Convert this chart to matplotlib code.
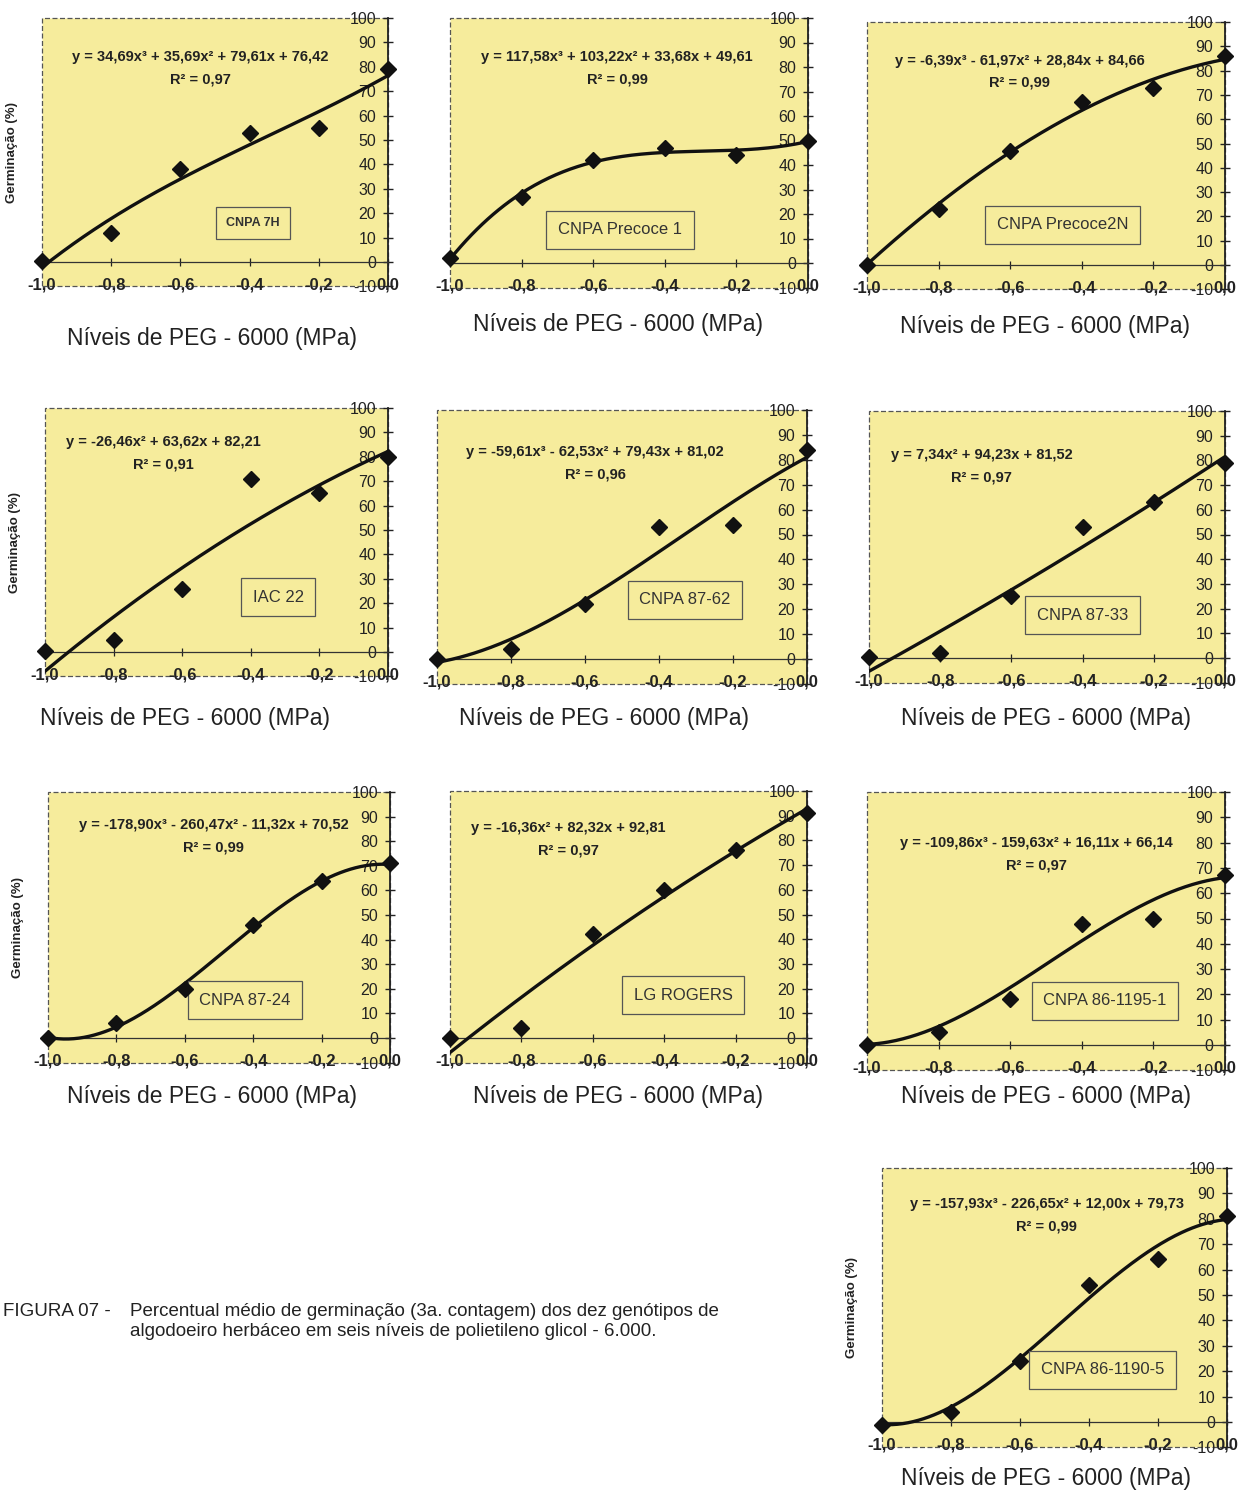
import matplotlib
matplotlib.use("Agg")
import matplotlib.pyplot as plt
import numpy as np

plt.rcParams['font.family'] = ['Liberation Sans', 'DejaVu Sans']

# PEG-6000 osmotic levels (MPa)
levels = [-1.0, -0.8, -0.6, -0.4, -0.2, 0.0]
level_labels = ['-1,0', '-0,8', '-0,6', '-0,4', '-0,2', '0,0']
y_ticks = [-10, 0, 10, 20, 30, 40, 50, 60, 70, 80, 90, 100]

genotypes = ['CNPA 7H', 'CNPA Precoce 1', 'CNPA Precoce2N', 'IAC 22',
             'CNPA 87-62', 'CNPA 87-33', 'CNPA 87-24', 'LG ROGERS',
             'CNPA 86-1195-1', 'CNPA 86-1190-5']

# mean germination (%) per genotype at each PEG level
germ_7h = [0.5, 12, 38, 53, 55, 79]
germ_precoce1 = [2, 27, 42, 47, 44, 50]
germ_precoce2n = [0, 23, 47, 67, 73, 86]
germ_iac22 = [0.5, 5, 26, 71, 65, 80]
germ_8762 = [0, 4, 22, 53, 54, 84]
germ_8733 = [0.5, 2, 25, 53, 63, 79]
germ_8724 = [0, 6, 20, 46, 64, 71]
germ_lgrogers = [0, 4, 42, 60, 76, 91]
germ_861195 = [0, 5, 18, 48, 50, 67]
germ_861190 = [-1, 4, 24, 54, 64, 81]

# polynomial trend coefficients (x^3, x^2, x, constant)
coef_7h = [34.69, 35.69, 79.61, 76.42]
coef_precoce1 = [117.58, 103.22, 33.68, 49.61]
coef_precoce2n = [-6.39, -61.97, 28.84, 84.66]
coef_iac22 = [0.0, -26.46, 63.62, 82.21]
coef_8762 = [-59.61, -62.53, 79.43, 81.02]
coef_8733 = [0.0, 7.34, 94.23, 81.52]
coef_8724 = [-178.90, -260.47, -11.32, 70.52]
coef_lgrogers = [0.0, -16.36, 82.32, 92.81]
coef_861195 = [-109.86, -159.63, 16.11, 66.14]
coef_861190 = [-157.93, -226.65, 12.00, 79.73]

r2_values = ['0,97', '0,99', '0,99', '0,91', '0,96', '0,97', '0,99', '0,97', '0,97', '0,99']

germ_all = [germ_7h, germ_precoce1, germ_precoce2n, germ_iac22, germ_8762,
            germ_8733, germ_8724, germ_lgrogers, germ_861195, germ_861190]
coef_all = [coef_7h, coef_precoce1, coef_precoce2n, coef_iac22, coef_8762,
            coef_8733, coef_8724, coef_lgrogers, coef_861195, coef_861190]

W, H = 1239, 1494
YELLOW = '#F6EC9C'

# panel frames in pixels: left, right, top (y=100), zero line (y=0)
frames = [
    (42, 388, 18, 262), (450, 808, 18, 263), (867, 1225, 22, 265),
    (45, 388, 408, 652), (437, 807, 410, 659), (869, 1225, 411, 658),
    (48, 390, 792, 1038), (450, 807, 791, 1038), (867, 1225, 792, 1045),
    (882, 1227, 1168, 1422),
]
# equation anchor (data coords), genotype box anchor (data coords)
eq_pos = [(-0.543, 84), (-0.533, 84), (-0.573, 84), (-0.656, 86), (-0.573, 83),
          (-0.683, 82), (-0.515, 86.5), (-0.669, 85), (-0.528, 80), (-0.522, 86)]
box_pos = [(-0.39, 16), (-0.525, 13.5), (-0.453, 16.5), (-0.32, 22.5), (-0.33, 23.7),
           (-0.40, 17.4), (-0.424, 15.4), (-0.347, 17.4), (-0.335, 17.4), (-0.36, 20.5)]
xlabel_pos = [(212, 338), (618, 325), (1045, 326), (185, 718), (604, 718), (1046, 718),
              (212, 1097), (618, 1097), (1046, 1097), (1046, 1479)]
with_ylabel = [0, 3, 6, 9]


def num(v):
    return f"{abs(v):.2f}".replace('.', ',')


def equation(c):
    terms = []
    for value, power in zip(c, ['x³', 'x²', 'x', '']):
        if value == 0 and power != '':
            continue
        terms.append((value, num(value) + power))
    text = 'y = ' + ('-' if terms[0][0] < 0 else '') + terms[0][1]
    for value, t in terms[1:]:
        text += (' - ' if value < 0 else ' + ') + t
    return text


fig = plt.figure(figsize=(W / 100, H / 100), dpi=100)
xs = np.linspace(-1, 0, 200)

for i, (germ, coef) in enumerate(zip(germ_all, coef_all)):
    x0, x1, ytop, yzero = frames[i]
    ybot = yzero + (yzero - ytop) / 10.0
    ax = fig.add_axes([x0 / W, 1 - ybot / H, (x1 - x0) / W, (ybot - ytop) / H])
    ax.set_facecolor(YELLOW)
    ax.set_xlim(-1, 0)
    ax.set_ylim(-10, 100)

    # plot-area border
    ax.patch.set_edgecolor('#555555')
    ax.patch.set_linewidth(0.9)
    ax.patch.set_linestyle((0, (4, 2)))
    ax.spines['top'].set_visible(False)
    ax.spines['left'].set_visible(False)
    ax.spines['bottom'].set_position(('data', 0))
    ax.spines['bottom'].set_color('#333333')
    ax.spines['bottom'].set_linewidth(0.9)
    ax.spines['right'].set_color('#222222')
    ax.spines['right'].set_linewidth(1.3)

    ax.set_xticks(levels)
    ax.set_xticklabels(level_labels, fontweight='bold', fontsize=12)
    ax.tick_params(axis='x', direction='inout', length=6, width=0.9, pad=8,
                   colors='#222222')

    ax.yaxis.tick_right()
    ax.set_yticks(y_ticks)
    ax.set_yticklabels([str(v) for v in y_ticks], fontsize=11.5)
    ax.tick_params(axis='y', direction='inout', length=7, width=1.0, pad=-12,
                   colors='#222222')
    for t in ax.yaxis.get_major_ticks():
        t.label2.set_horizontalalignment('right')

    poly = np.polyval(coef, xs)
    ax.plot(xs, poly, color='#111111', lw=2.4, zorder=3)
    ax.plot(levels, germ, linestyle='none', marker='D', markersize=8,
            color='#111111', zorder=4, clip_on=False)

    ex, ey = eq_pos[i]
    ax.text(ex, ey, equation(coef), ha='center', va='center', fontsize=10.5,
            fontweight='bold', color='#222222')
    ax.text(ex, ey - 9, 'R² = ' + r2_values[i], ha='center', va='center',
            fontsize=10.5, fontweight='bold', color='#222222')

    bx, by = box_pos[i]
    if i == 0:
        ax.text(bx, by, genotypes[i], ha='center', va='center', fontsize=9,
                fontweight='bold', color='#333333',
                bbox=dict(boxstyle='square,pad=0.8', fc=YELLOW, ec='#555555', lw=0.9))
    else:
        ax.text(bx, by, genotypes[i], ha='center', va='center', fontsize=12,
                color='#333333',
                bbox=dict(boxstyle='square,pad=0.7', fc=YELLOW, ec='#555555', lw=0.9))

    if i in with_ylabel:
        ax.set_ylabel('Germinação (%)', fontsize=9.5, fontweight='bold', color='#222222')
        ax.yaxis.set_label_position('left')
        ax.yaxis.set_label_coords(-0.07, 0.5)

    lx, ly = xlabel_pos[i]
    fig.text(lx / W, 1 - ly / H, 'Níveis de PEG - 6000 (MPa)', ha='center',
             va='center', fontsize=16.5, color='#222222')

fig.text(3 / W, 1 - 1311 / H, 'FIGURA 07 -', ha='left', va='center',
         fontsize=13.5, color='#222222')
fig.text(130 / W, 1 - 1311 / H,
         'Percentual médio de germinação (3a. contagem) dos dez genótipos de',
         ha='left', va='center', fontsize=13.5, color='#222222')
fig.text(130 / W, 1 - 1332 / H,
         'algodoeiro herbáceo em seis níveis de polietileno glicol - 6.000.',
         ha='left', va='center', fontsize=13.5, color='#222222')

fig.savefig('out.png', dpi=100, facecolor='white')
